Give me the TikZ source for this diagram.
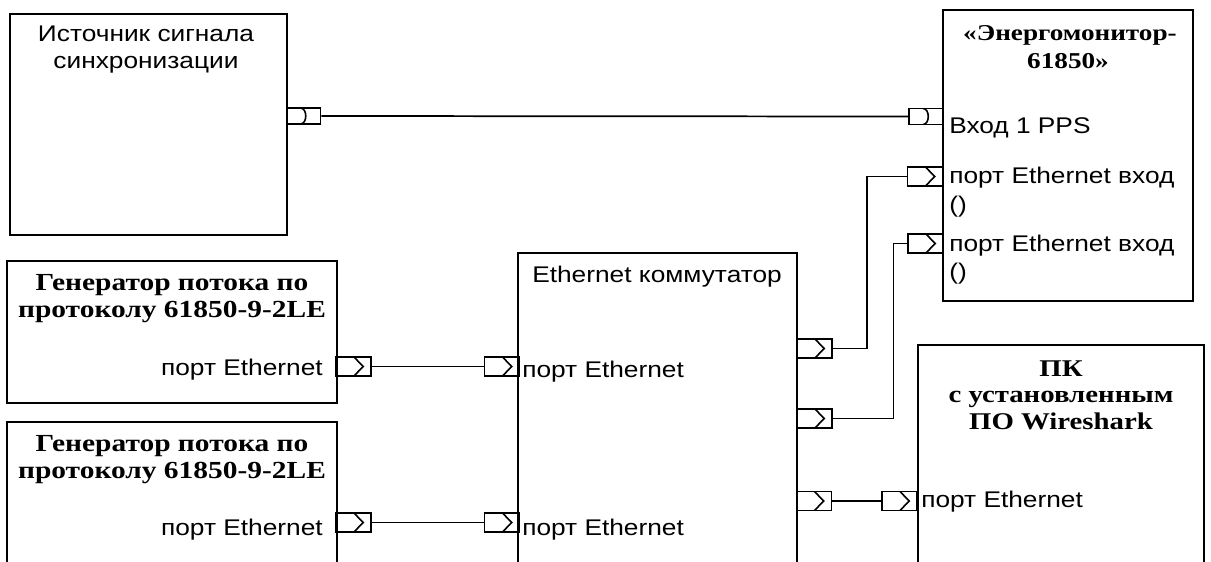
\documentclass[tikz,border=0pt]{standalone}
\usepackage{fontspec}
\newfontfamily\sansf[FakeStretch=1.16]{Liberation Sans}
\newfontfamily\serff[FakeStretch=1.2]{Liberation Serif}
\usetikzlibrary{calc}
\tikzset{
 box/.style={line width=1.3pt},
 wire/.style={line width=1.3pt},
 lbl/.style={inner sep=0, font=\sansf\fontsize{17}{20}\selectfont},
 ttl/.style={inner sep=0, font=\serff\bfseries\fontsize{17}{20}\selectfont},
 ttlg/.style={inner sep=0, font=\serff\bfseries\fontsize{18.4}{22}\selectfont},
 ttlp/.style={inner sep=0, font=\serff\bfseries\fontsize{18}{21}\selectfont},
 port/.style={draw, line width=1.2pt, rectangle, inner sep=0, minimum width=26pt, minimum height=14pt},
 ethport/.style={port, path picture={\draw[line width=1.2pt]
   ($(path picture bounding box.north west)+(13.5pt,0)$) --
   ($(path picture bounding box.west)+(20.25pt,0)$) --
   ($(path picture bounding box.south west)+(13.5pt,0)$);}},
 ppsport/.style={port, minimum width=25.5pt, minimum height=12pt, path picture={\draw[line width=1.2pt]
   ($(path picture bounding box.north west)+(10.5pt,0)$) .. controls +(5.25pt,0) and +(5.25pt,0) ..
   ($(path picture bounding box.south west)+(10.5pt,0)$);}}
}
\begin{document}
\begin{tikzpicture}[x=0.75pt,y=-0.75pt]
\useasboundingbox (0,0) rectangle (1211,561);
\clip (0,0) rectangle (1211,561);
% boxes
\draw[box] (10,14) rectangle (287,235);
\draw[box] (943,10) rectangle (1193,301);
\draw[box] (7,261) rectangle (337,403);
\draw[box] (7,570) -- (7,422) -- (337,422) -- (337,570);
\draw[box] (518,570) -- (518,253) -- (797,253) -- (797,570);
\draw[box] (918,570) -- (918,345) -- (1204,345) -- (1204,570);
% texts
\node[lbl, anchor=base] (t1) at (146,41) {Источник сигнала};
\node[lbl, anchor=base] (t2) at (146,68) {синхронизации};
\node[ttl, anchor=base] (e1) at (1070,40) {«Энергомонитор-};
\node[ttl, anchor=base] (e2) at (1068,68) {61850»};
\node[lbl, anchor=base west] (e3) at (949,133) {Вход 1 PPS};
\node[lbl, anchor=base west] (e4) at (949,183) {порт Ethernet вход};
\node[lbl, anchor=base west] (e5) at (949,212) {()};
\node[lbl, anchor=base west] (e6) at (949,251) {порт Ethernet вход};
\node[lbl, anchor=base west] (e7) at (949,279) {()};
\node[ttlg, anchor=base] (g1a) at (172,290) {Генератор потока по};
\node[ttlg, anchor=base] (g1b) at (172,317) {протоколу 61850-9-2LE};
\node[lbl, anchor=base east] (g1c) at (323,375) {порт Ethernet};
\node[ttlg, anchor=base] (g2a) at (172,451) {Генератор потока по};
\node[ttlg, anchor=base] (g2b) at (172,478) {протоколу 61850-9-2LE};
\node[lbl, anchor=base east] (g2c) at (323,535) {порт Ethernet};
\node[lbl, anchor=base] (s0) at (657,282) {Ethernet коммутатор};
\node[lbl, anchor=base west] (s1) at (522,377) {порт Ethernet};
\node[lbl, anchor=base west] (s2) at (522,535) {порт Ethernet};
\node[ttlp, anchor=base] (p1) at (1061,376) {ПК};
\node[ttlp, anchor=base] (p2) at (1061,402) {с установленным};
\node[ttlp, anchor=base] (p3) at (1061,429) {ПО Wireshark};
\node[lbl, anchor=base west] (p4) at (921,507) {порт Ethernet};
% ports
\node[ppsport] (srcP) at (303.5,116) {};
\node[ppsport] (enP) at (926,116.5) {};
\node[ethport] (enE1) at (925,176.5) {};
\node[ethport] (enE2) at (925.5,243.5) {};
\node[ethport] (g1P) at (353.5,366.5) {};
\node[ethport] (swL1) at (502,366.5) {};
\node[ethport] (g2P) at (353.5,522.5) {};
\node[ethport] (swL2) at (502,522.5) {};
\node[ethport] (swR1) at (814.5,348.5) {};
\node[ethport] (swR2) at (814.5,418.5) {};
\node[ethport] (swR3) at (814,501) {};
\node[ethport] (pcP) at (899.5,501) {};
% connectors
\draw[wire] (srcP.east) -- (enP.west);
\draw[wire] (g1P.east) -- (swL1.west);
\draw[wire] (g2P.east) -- (swL2.west);
\draw[wire] (swR1.east) -| ([xshift=-30pt]enE1.west) -- (enE1.west);
\draw[wire] (swR2.east) -| ([xshift=-10.5pt]enE2.west) -- (enE2.west);
\draw[wire] (swR3.east) -- (pcP.west);
\end{tikzpicture}
\end{document}
